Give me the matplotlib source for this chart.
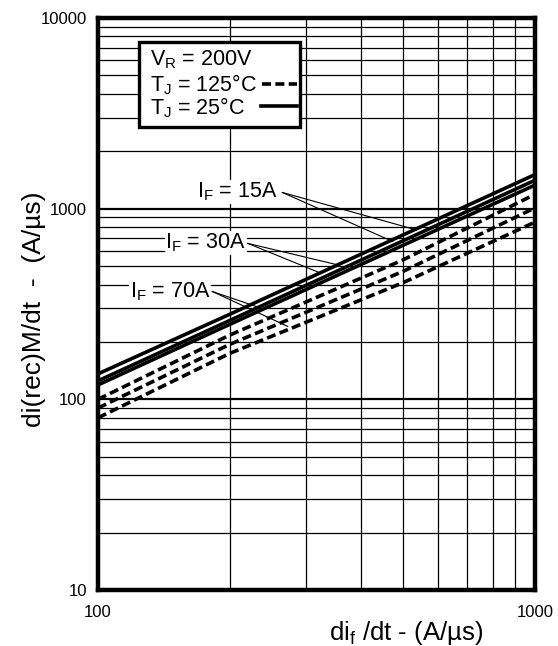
import matplotlib
matplotlib.use("Agg")
import matplotlib.pyplot as plt
from matplotlib.patches import Rectangle
from matplotlib.lines import Line2D
from matplotlib.ticker import FixedLocator, NullFormatter, FixedFormatter

plt.rcParams["font.family"] = ["Liberation Sans", "DejaVu Sans"]
plt.rcParams["mathtext.default"] = "regular"

# di_f/dt (A/us)
dif_dt = [100, 200, 500, 1000]

# Tj = 25C (solid), IF = 15A / 30A / 70A
tj25_15a = [136, 279, 730, 1510]
tj25_30a = [125, 259, 680, 1410]
tj25_70a = [119, 247, 644, 1330]

# Tj = 125C (dashed)
tj125_15a = [100, 217, 540, 1190]
tj125_30a = [90, 194, 470, 1010]
tj125_70a = [80, 174, 410, 850]

x_ticks = [100, 1000]
x_tick_labels = ["100", "1000"]
y_ticks = [10, 100, 1000, 10000]
y_tick_labels = ["10", "100", "1000", "10000"]

fig = plt.figure(figsize=(5.58, 6.46), dpi=100)
ax = fig.add_axes([0.1756, 0.0867, 0.7832, 0.8854])
ax.set_xscale("log")
ax.set_yscale("log")
ax.set_xlim(100, 1000)
ax.set_ylim(10, 10000)

# grid
for m in range(2, 10):
    ax.axvline(m * 100, color="black", lw=0.9, zorder=1)
for dec in [10, 100, 1000]:
    for m in range(2, 10):
        ax.axhline(dec * m, color="black", lw=0.9, zorder=1)
for v in [100, 1000]:
    ax.axhline(v, color="black", lw=1.6, zorder=1)

lw = 2.6
dash = (2.5, 1.2)
for ys in [tj25_15a, tj25_30a, tj25_70a]:
    ax.plot(dif_dt, ys, color="black", lw=lw, solid_capstyle="butt", zorder=3)
for ys in [tj125_15a, tj125_30a, tj125_70a]:
    ax.plot(dif_dt, ys, color="black", lw=lw, dashes=dash, zorder=3)

for s in ax.spines.values():
    s.set_linewidth(3.2)

ax.xaxis.set_major_locator(FixedLocator(x_ticks))
ax.xaxis.set_major_formatter(FixedFormatter(x_tick_labels))
ax.xaxis.set_minor_formatter(NullFormatter())
ax.yaxis.set_major_locator(FixedLocator(y_ticks))
ax.yaxis.set_major_formatter(FixedFormatter(y_tick_labels))
ax.yaxis.set_minor_formatter(NullFormatter())
ax.tick_params(which="both", length=0, labelsize=12)
ax.tick_params(axis="x", pad=11)
ax.tick_params(axis="y", pad=8)

ax.set_xlabel("di$_f$ /dt - (A/µs)", fontsize=18.5)
ax.xaxis.set_label_coords(0.705, -0.05)
ax.set_ylabel("di(rec)M/dt  -  (A/µs)", fontsize=19)
ax.yaxis.set_label_coords(-0.12, 0.49)

# legend box
ax.add_patch(Rectangle((0.094, 0.809), 0.368, 0.149, transform=ax.transAxes,
                       facecolor="white", edgecolor="black", lw=2.4, zorder=5))
tfs = 15.5
ax.text(0.12, 0.927, "V$_R$ = 200V", transform=ax.transAxes, fontsize=tfs,
        va="center", zorder=6)
ax.text(0.12, 0.883, "T$_J$ = 125°C", transform=ax.transAxes, fontsize=tfs,
        va="center", zorder=6)
ax.text(0.12, 0.844, "T$_J$ = 25°C", transform=ax.transAxes, fontsize=tfs,
        va="center", zorder=6)
ax.add_line(Line2D([0.376, 0.455], [0.885, 0.885], transform=ax.transAxes,
                   color="black", lw=lw, dashes=dash, zorder=6))
ax.add_line(Line2D([0.372, 0.455], [0.846, 0.846], transform=ax.transAxes,
                   color="black", lw=lw, zorder=6))

# current callouts
callouts = [
    ("I$_F$ = 15A", (258, 1225), (264, 1217), [(535, 774), (473, 672)]),
    ("I$_F$ = 30A", (218, 662), (220, 658), [(354, 507), (324, 458)]),
    ("I$_F$ = 70A", (181, 366), (182.5, 368), [(236, 301), (272, 241)]),
]
for label, tpos, start, ends in callouts:
    ax.text(tpos[0], tpos[1], label, fontsize=tfs, ha="right", va="center",
            zorder=4, bbox=dict(facecolor="white", edgecolor="none", pad=0.5))
    for e in ends:
        ax.annotate("", xy=e, xytext=start,
                    arrowprops=dict(arrowstyle="-", lw=0.8, color="black",
                                    shrinkA=0, shrinkB=0), zorder=4)

fig.savefig("out.png", dpi=100)
